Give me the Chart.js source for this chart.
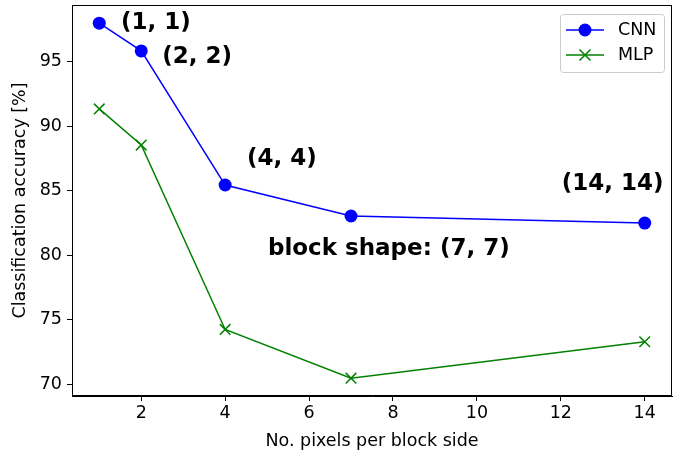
<!DOCTYPE html>
<html>
<head>
<meta charset="utf-8">
<script src="https://cdn.jsdelivr.net/npm/chart.js@4/dist/chart.umd.min.js"></script>
<style>
  html, body { margin: 0; padding: 0; background: #fff; }
  #wrap { width: 689px; height: 454px; }
</style>
</head>
<body>
<div id="wrap"><canvas id="grafico" width="689" height="454"></canvas></div>
<script>
var blockSides = [1, 2, 4, 7, 14];
var cnnAcc = [98.0, 95.85, 85.45, 83.05, 82.5];
var mlpAcc = [91.35, 88.55, 74.25, 70.47, 73.3];
var xTicks = [2, 4, 6, 8, 10, 12, 14];
var yTicks = [70, 75, 80, 85, 90, 95];
var shapeLabels = ["(1, 1)", "(2, 2)", "(4, 4)", "(7, 7)", "(14, 14)"];

var tickFont = { family: "'DejaVu Sans'", size: 17.5 };
// lineHeight 0 so the y labels don't push the plot area down
var yTickFont = { family: "'DejaVu Sans'", size: 17.5, lineHeight: 0 };

// where each block-shape label sits (data coords, text left / middle)
var labelSpots = [
    { x: 1.52, y: 98.0, text: shapeLabels[0] },
    { x: 2.5, y: 95.4, text: shapeLabels[1] },
    { x: 4.52, y: 87.45, text: shapeLabels[2] },
    { x: 5.02, y: 80.5, text: "block shape: " + shapeLabels[3] },
    { x: 12.02, y: 85.5, text: shapeLabels[4] }
];

var extras = {
    id: 'extras',
    afterDatasetsDraw: function (chart) {
        var c = chart.ctx, a = chart.chartArea;
        var sx = chart.scales.x, sy = chart.scales.y;
        c.save();
        // frame
        c.strokeStyle = '#000';
        c.lineWidth = 1;
        c.strokeRect(a.left + 0.5, a.top + 0.5, a.right - a.left - 1, a.bottom - a.top - 1);
        // annotations
        c.fillStyle = '#000';
        c.font = "bold 23px 'DejaVu Sans'";
        c.textAlign = 'left';
        c.textBaseline = 'middle';
        labelSpots.forEach(function (s) {
            c.fillText(s.text, sx.getPixelForValue(s.x), sy.getPixelForValue(s.y));
        });
        // legend
        var lx = a.right - 112, ly = a.top + 9, lw = 104, lh = 58;
        c.fillStyle = 'rgba(255,255,255,0.8)';
        c.strokeStyle = '#cccccc';
        c.beginPath();
        c.roundRect(lx + 0.5, ly + 0.5, lw, lh, 3);
        c.fill();
        c.stroke();
        chart.data.datasets.forEach(function (ds, i) {
            var yy = ly + 16 + i * 25;
            c.strokeStyle = ds.borderColor;
            c.lineWidth = 1.5;
            c.beginPath();
            c.moveTo(lx + 6, yy);
            c.lineTo(lx + 44, yy);
            c.stroke();
            var mx = lx + 25;
            if (ds.pointStyle === 'circle') {
                c.fillStyle = ds.borderColor;
                c.beginPath();
                c.arc(mx, yy, 6.5, 0, Math.PI * 2);
                c.fill();
            } else {
                var r = 5.5;
                c.beginPath();
                c.moveTo(mx - r, yy - r); c.lineTo(mx + r, yy + r);
                c.moveTo(mx - r, yy + r); c.lineTo(mx + r, yy - r);
                c.stroke();
            }
            c.fillStyle = '#000';
            c.font = "17.5px 'DejaVu Sans'";
            c.fillText(ds.label, lx + 58, yy);
        });
        c.restore();
    }
};

function noEdgePad(s) {
    s.paddingTop = 0;
    s.paddingBottom = 0;
    s.paddingLeft = 0;
    s.paddingRight = 0;
}

var ctx = document.getElementById("grafico").getContext('2d');
var grafico = new Chart(ctx, {
    type: 'line',
    data: {
        datasets: [
            {
                label: "CNN",
                data: blockSides.map(function (v, i) { return { x: v, y: cnnAcc[i] }; }),
                borderColor: "#0000ff",
                backgroundColor: "#0000ff",
                borderWidth: 1.5,
                pointStyle: 'circle',
                pointRadius: 6.5,
                pointHoverRadius: 6.5,
                pointBorderWidth: 0,
                fill: false,
                lineTension: 0
            },
            {
                label: "MLP",
                data: blockSides.map(function (v, i) { return { x: v, y: mlpAcc[i] }; }),
                borderColor: "#008000",
                backgroundColor: "#008000",
                borderWidth: 1.5,
                pointStyle: 'crossRot',
                pointRadius: 7.5,
                pointHoverRadius: 7.5,
                pointBorderWidth: 1.5,
                fill: false,
                lineTension: 0
            }
        ]
    },
    options: {
        responsive: false,
        animation: false,
        events: [],
        layout: { autoPadding: false, padding: { top: 5, right: 17, left: 0, bottom: 0 } },
        plugins: { legend: { display: false }, tooltip: { enabled: false } },
        scales: {
            x: {
                type: 'linear',
                min: 0.35,
                max: 14.65,
                afterBuildTicks: function (s) { s.ticks = xTicks.map(function (v) { return { value: v }; }); },
                afterFit: function (s) { s.height = 58; noEdgePad(s); },
                grid: { display: true, drawOnChartArea: false, drawTicks: true, tickLength: 5, color: '#000' },
                border: { display: true, color: '#000' },
                ticks: { color: '#000', font: tickFont, padding: 2, maxRotation: 0 },
                title: { display: true, text: 'No. pixels per block side', color: '#000', font: tickFont, padding: { top: 0, bottom: 2 } }
            },
            y: {
                min: 69.09,
                max: 99.41,
                afterBuildTicks: function (s) { s.ticks = yTicks.map(function (v) { return { value: v }; }); },
                afterFit: function (s) { s.width = 72; noEdgePad(s); },
                grid: { display: true, drawOnChartArea: false, drawTicks: true, tickLength: 5, color: '#000' },
                border: { display: true, color: '#000' },
                ticks: { color: '#000', font: yTickFont, padding: 5 },
                title: { display: true, text: 'Classification accuracy [%]', color: '#000', font: tickFont, padding: { top: 10, bottom: 0 } }
            }
        }
    },
    plugins: [extras]
});
</script>
</body>
</html>
